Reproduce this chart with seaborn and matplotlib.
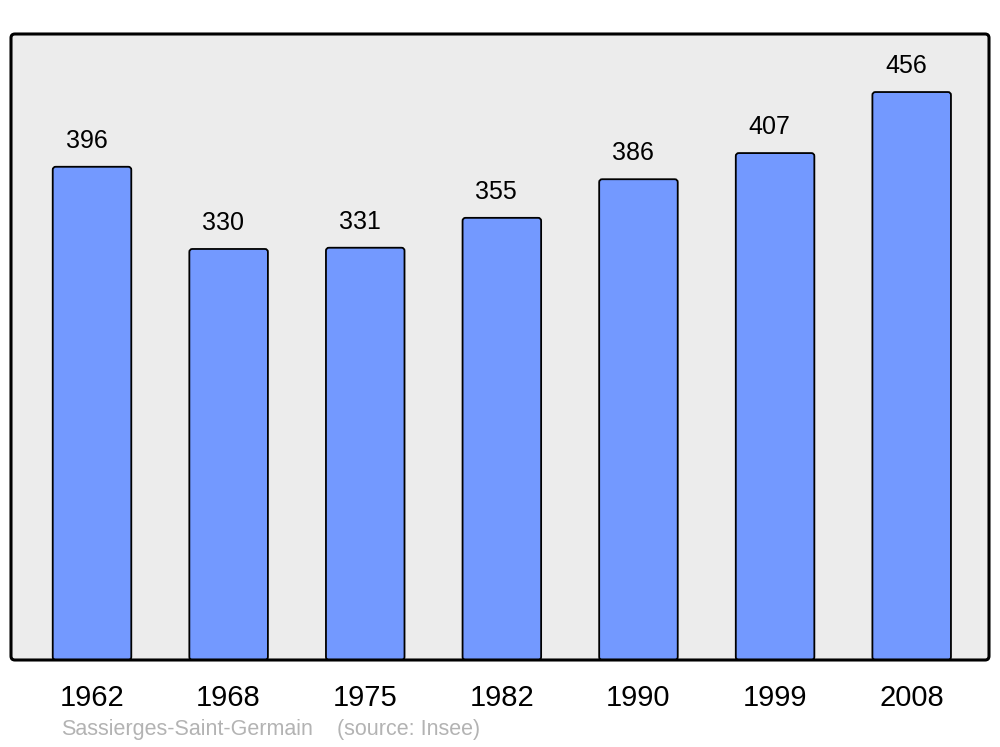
import matplotlib
matplotlib.use("Agg")
import matplotlib.pyplot as plt
from matplotlib.patches import FancyBboxPatch
import seaborn as sns
import pandas as pd

years = ["1962", "1968", "1975", "1982", "1990", "1999", "2008"]
population = [396, 330, 331, 355, 386, 407, 456]
town = "Sassierges-Saint-Germain"
source = "(source: Insee)"

BAR = "#7399ff"
BG = "#ececec"

sns.set_theme(style="white")
plt.rcParams["font.family"] = ["Liberation Sans", "DejaVu Sans"]

df = pd.DataFrame({"year": years, "pop": population})

fig = plt.figure(figsize=(10, 7.47), dpi=100)
ax = fig.add_axes([11 / 1000, 1 - 660 / 747, 978 / 1000, 626 / 747])
sns.barplot(data=df, x="year", y="pop", order=years, color=BAR,
            saturation=1, width=0.575, edgecolor="black", linewidth=1.3,
            ax=ax)

ax.set_xlim(-0.593, 6.566)
ax.set_ylim(0, 502.6)

# swap the square bars for ones with slightly rounded corners
for p in list(ax.patches):
    x, y = p.get_x(), p.get_y()
    w, h = p.get_width(), p.get_height()
    rb = FancyBboxPatch((x, y), w, h,
                        boxstyle="round,pad=0,rounding_size=0.022",
                        mutation_aspect=110, facecolor=BAR,
                        edgecolor="black", linewidth=1.3, zorder=2)
    p.remove()
    ax.add_patch(rb)

for i, v in enumerate(population):
    ax.annotate(str(v), (i, v), xytext=(-4, 13.5), textcoords="offset points",
                ha="center", va="baseline", fontsize=18, color="black")

ax.set_facecolor("none")
ax.set_xlabel("")
ax.set_ylabel("")
ax.set_yticks([])
ax.tick_params(axis="x", length=0, pad=17, labelsize=21, colors="black")
for spine in ax.spines.values():
    spine.set_visible(False)

frame = FancyBboxPatch((0, 0), 1, 1, transform=ax.transAxes,
                       boxstyle="round,pad=0,rounding_size=0.004",
                       mutation_aspect=978 / 626, facecolor=BG,
                       edgecolor="none", zorder=0, clip_on=False)
ax.add_patch(frame)
border = FancyBboxPatch((0, 0), 1, 1, transform=ax.transAxes,
                        boxstyle="round,pad=0,rounding_size=0.004",
                        mutation_aspect=978 / 626, facecolor="none",
                        edgecolor="black", linewidth=2.2, zorder=5,
                        clip_on=False)
ax.add_patch(border)

fig.text(61 / 1000, 1 - 730 / 747, town, fontsize=15.5, color="#b3b3b3",
         ha="left", va="center")
fig.text(337 / 1000, 1 - 730 / 747, source, fontsize=15.5, color="#b3b3b3",
         ha="left", va="center")

fig.savefig("out.png", dpi=100, facecolor="white")
